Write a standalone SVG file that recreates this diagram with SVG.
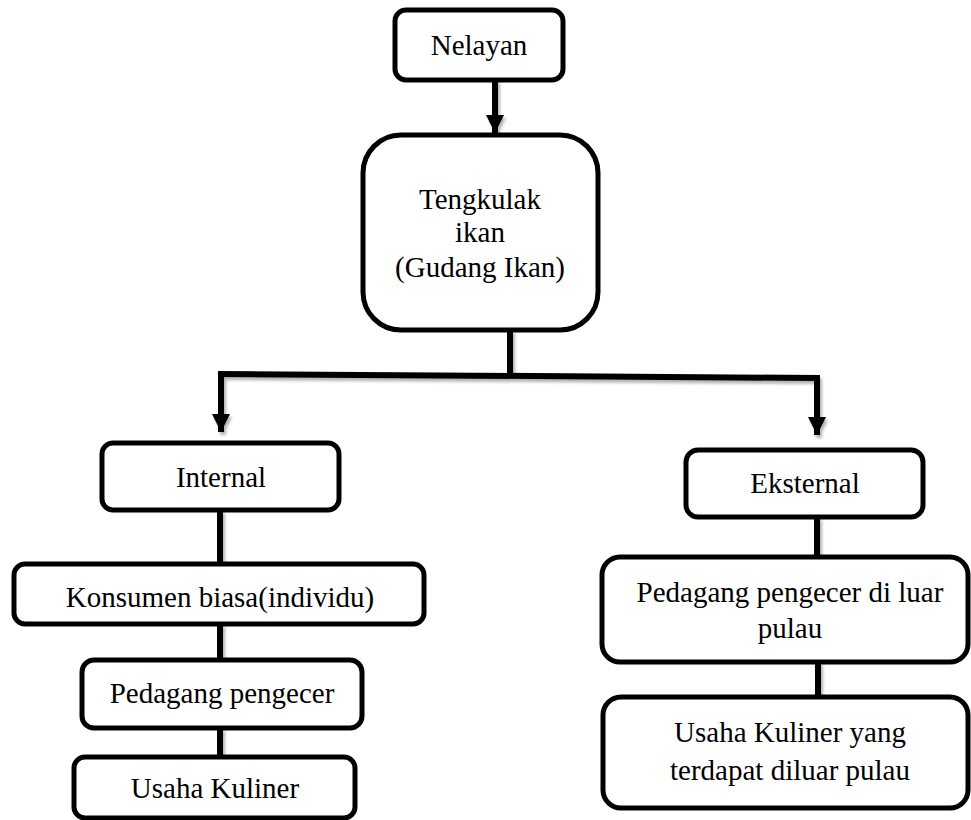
<svg xmlns="http://www.w3.org/2000/svg" width="971" height="820" viewBox="0 0 971 820">
<defs>
<style>
.box{fill:#fff;stroke:#000;stroke-width:5}
.lbl{font-family:'Liberation Serif','Times New Roman',serif;font-size:29px;fill:#000;text-anchor:middle}
.con{fill:none;stroke:#000;stroke-width:6;stroke-linejoin:miter}
</style>
<marker id="ah" viewBox="0 0 10 10" refX="10" refY="5" markerWidth="3" markerHeight="3" orient="auto" markerUnits="strokeWidth">
<path d="M0,0 L10,5 L0,10 z" fill="#000"/>
</marker>
<filter id="sh" x="-20%" y="-20%" width="140%" height="140%">
<feDropShadow dx="2" dy="3" stdDeviation="1.5" flood-color="#000" flood-opacity="0.3"/>
</filter>
</defs>
<rect width="971" height="820" fill="#fff"/>
<g id="connectors" filter="url(#sh)">
<path class="con" d="M495,80 L495,133" marker-end="url(#ah)"/>
<path class="con" d="M510,330 L510,376"/>
<path class="con" d="M218,374 L820,378"/>
<path class="con" d="M221,374 L221,432" marker-end="url(#ah)"/>
<path class="con" d="M817,378 L817,435" marker-end="url(#ah)"/>
<path class="con" d="M220,510 L220,564"/>
<path class="con" d="M220,624 L220,660"/>
<path class="con" d="M220,728 L220,757"/>
<path class="con" d="M817,517 L817,557"/>
<path class="con" d="M818,662 L818,697"/>
</g>
<g id="n-nelayan">
<rect class="box" x="395" y="10" width="168" height="70" rx="11"/>
<text class="lbl" x="479" y="55">Nelayan</text>
</g>
<g id="n-tengkulak">
<rect class="box" x="363" y="135" width="235" height="195" rx="38"/>
<text class="lbl" x="480" y="209">Tengkulak</text>
<text class="lbl" x="480" y="242">ikan</text>
<text class="lbl" x="480" y="277">(Gudang Ikan)</text>
</g>
<g id="n-internal">
<rect class="box" x="102" y="443" width="237" height="67" rx="11"/>
<text class="lbl" x="221" y="487">Internal</text>
</g>
<g id="n-eksternal">
<rect class="box" x="686" y="450" width="237" height="67" rx="12"/>
<text class="lbl" x="805" y="493">Eksternal</text>
</g>
<g id="n-konsumen">
<rect class="box" x="14" y="564" width="410" height="60" rx="11"/>
<text class="lbl" x="220" y="607">Konsumen biasa(individu)</text>
</g>
<g id="n-pedagang">
<rect class="box" x="82" y="660" width="280" height="68" rx="12"/>
<text class="lbl" x="222" y="703">Pedagang pengecer</text>
</g>
<g id="n-usaha">
<rect class="box" x="74" y="757" width="281" height="61" rx="11"/>
<text class="lbl" x="215" y="798">Usaha Kuliner</text>
</g>
<g id="n-pedagang-luar">
<rect class="box" x="602" y="557" width="366" height="105" rx="18"/>
<text class="lbl" x="790" y="602">Pedagang pengecer di luar</text>
<text class="lbl" x="790" y="638">pulau</text>
</g>
<g id="n-usaha-luar">
<rect class="box" x="603" y="697" width="365" height="111" rx="18"/>
<text class="lbl" x="790" y="742">Usaha Kuliner yang</text>
<text class="lbl" x="790" y="780">terdapat diluar pulau</text>
</g>
</svg>
